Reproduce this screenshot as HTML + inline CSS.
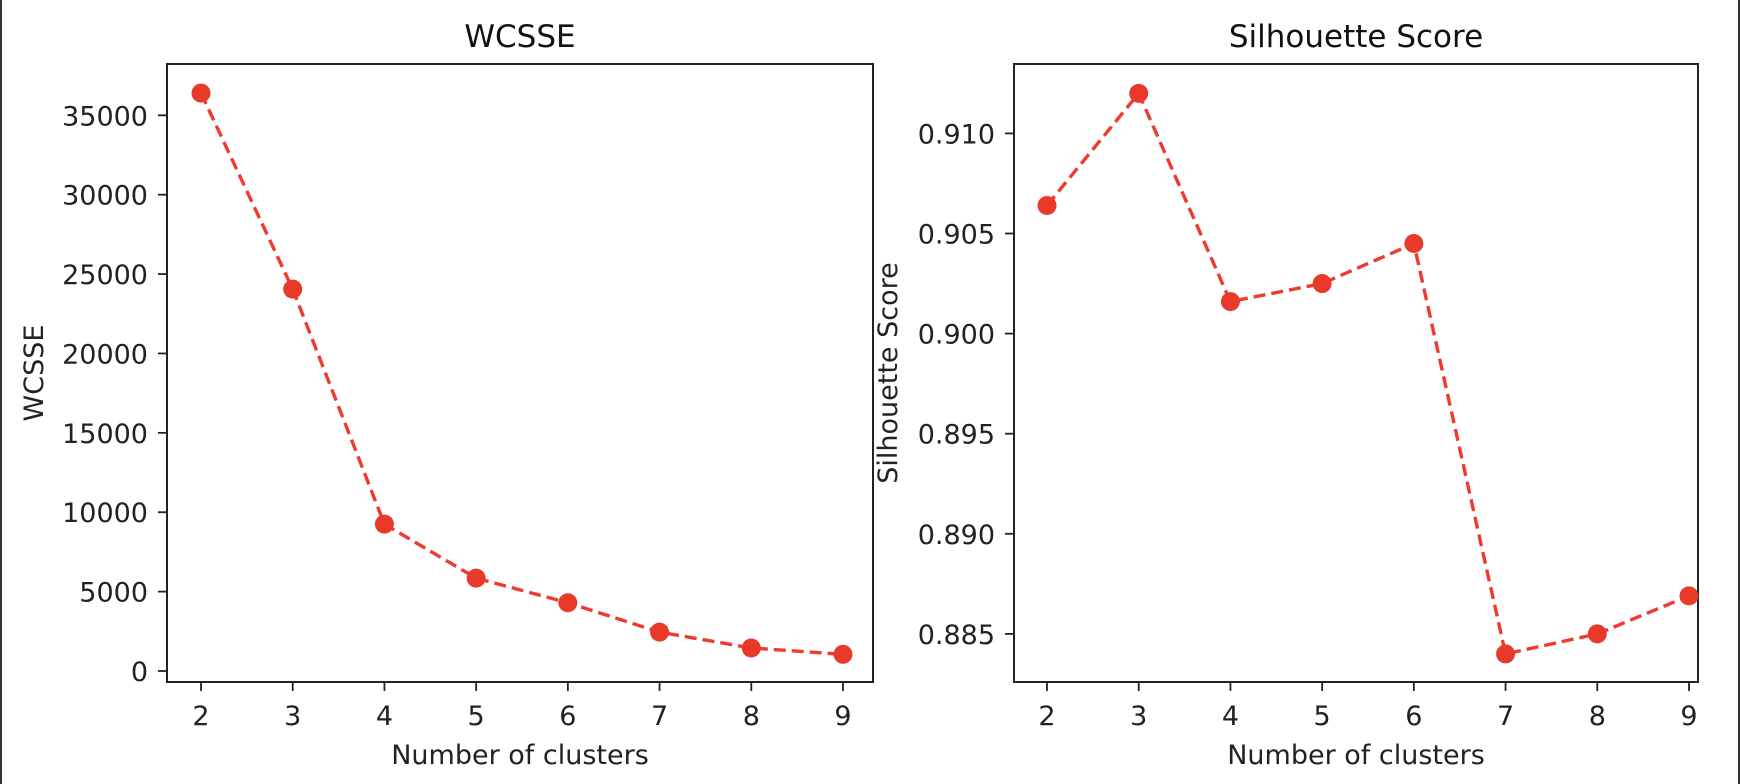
<!DOCTYPE html>
<html><head><meta charset="utf-8"><style>
html,body{margin:0;padding:0;background:#fff;}
svg{display:block;font-family:"DejaVu Sans","Liberation Sans",sans-serif;}
</style></head><body>
<svg id="fig" width="1740" height="784" viewBox="0 0 1740 784">
<rect x="0" y="0" width="1740" height="784" fill="#fff"/>
<rect x="0" y="0" width="2" height="784" fill="#333"/>
<rect x="1738" y="0" width="2" height="784" fill="#333"/>
</svg>
<script>
const clusters = [2,3,4,5,6,7,8,9];
const wcsse = [36400,24050,9250,5850,4300,2450,1450,1050];
const silhouette = [0.9064,0.9120,0.9016,0.9025,0.9045,0.8840,0.8850,0.8869];
const wcsseTicks = [0,5000,10000,15000,20000,25000,30000,35000];
const silTicks = [0.885,0.890,0.895,0.900,0.905,0.910];
const silTickLabels = ["0.885","0.890","0.895","0.900","0.905","0.910"];

const NS="http://www.w3.org/2000/svg";
const svg=document.getElementById('fig');
function mk(tag,attrs,parent){const e=document.createElementNS(NS,tag);for(const k in attrs)e.setAttribute(k,attrs[k]);(parent||svg).appendChild(e);return e;}

function panel(o){
  const g=mk('g',{});
  
  
  const xs=v=>o.x2px+(v-o.xmin)*(o.x9px-o.x2px)/(o.xmax-o.xmin);
  const ys=v=>o.y0px+(v-o.ya)*(o.y1px-o.y0px)/(o.yb-o.ya);
  const fr=mk('rect',{x:o.L,y:o.T,width:o.R-o.L,height:o.B-o.T,fill:'none',stroke:'#222','stroke-width':2},g);
  
  
  o.xticks.forEach(v=>{
    mk('line',{x1:xs(v),x2:xs(v),y1:o.B,y2:o.B+9,stroke:'#222','stroke-width':1.8},g);
    const t=mk('text',{x:xs(v),y:725,'text-anchor':'middle','font-size':27,fill:'#222'},g);
    t.textContent=v;
    
    
  });
  o.yticks.forEach((v,i)=>{
    mk('line',{x1:o.L-9,x2:o.L,y1:ys(v),y2:ys(v),stroke:'#222','stroke-width':1.8},g);
    const t=mk('text',{x:o.L-19,y:ys(v)+10,'text-anchor':'end','font-size':27,fill:'#222'},g);
    t.textContent=o.ylabels[i];
    
    
  });
  const pts=o.vals.map((v,i)=>xs(o.xticks[i])+','+ys(v)).join(' ');
  const pl=mk('polyline',{points:pts,fill:'none',stroke:'#ee3b2e','stroke-width':3.4,'stroke-dasharray':'12,6'},g);
  
  
  o.vals.forEach((v,i)=>{
    const c=mk('circle',{cx:xs(o.xticks[i]),cy:ys(v),r:9.5,fill:'#e8392a'},g);
    
    
  });
  const ti=mk('text',{x:(o.L+o.R)/2,y:47,'text-anchor':'middle','font-size':31,fill:'#111'},g);
  ti.textContent=o.title;
  
  
  const xl=mk('text',{x:(o.L+o.R)/2,y:764,'text-anchor':'middle','font-size':27,fill:'#222'},g);
  xl.textContent='Number of clusters';
  
  
  const yl=mk('text',{x:0,y:0,'text-anchor':'middle','font-size':27,fill:'#222',transform:`translate(${o.ylx},${(o.T+o.B)/2}) rotate(-90)`},g);
  yl.textContent=o.ylabel;
  
  
}
panel({name:'wcsse-chart',L:167,R:873,T:64,B:682,x2px:201,x9px:843,xmin:2,xmax:9,
  ya:0,yb:35000,y0px:671,y1px:115.3,xticks:clusters,yticks:wcsseTicks,ylabels:wcsseTicks.map(String),
  vals:wcsse,title:'WCSSE',ylabel:'WCSSE',ylx:43});
panel({name:'silhouette-chart',L:1014,R:1698,T:64,B:682,x2px:1047,x9px:1689,xmin:2,xmax:9,
  ya:0.885,yb:0.910,y0px:633.9,y1px:133.4,xticks:clusters,yticks:silTicks,ylabels:silTickLabels,
  vals:silhouette,title:'Silhouette Score',ylabel:'Silhouette Score',ylx:897});
</script>
</body></html>
